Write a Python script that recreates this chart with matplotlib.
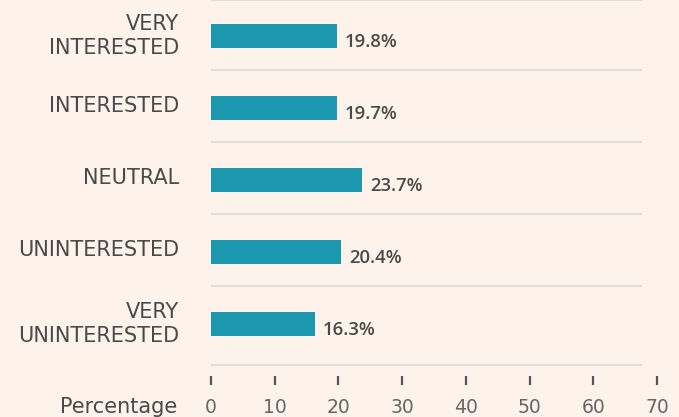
import matplotlib
matplotlib.use("Agg")
import matplotlib.pyplot as plt
from matplotlib.transforms import ScaledTranslation

categories = ["VERY\nINTERESTED", "INTERESTED", "NEUTRAL", "UNINTERESTED", "VERY\nUNINTERESTED"]
values = [19.8, 19.7, 23.7, 20.4, 16.3]
xticks = [0, 10, 20, 30, 40, 50, 60, 70]

BG = "#fdf3eb"
BAR = "#1c97b0"
GRID = "#e2e0de"
TXT = "#4a4a4a"

W, H = 679, 417
fig = plt.figure(figsize=(W / 100, H / 100), dpi=100, facecolor=BG)
# axes: x=0 at px 211, x=70 at px 657; top px 0, bottom px 376
ax = fig.add_axes([211 / W, 1 - 376 / H, (657 - 211) / W, 376 / H])
ax.set_facecolor(BG)

ypos = list(range(len(categories)))
ax.barh(ypos, values, height=0.335, color=BAR, zorder=3)
ax.set_xlim(0, 70)
ax.set_ylim(4.722, -0.5)

# separators
seps = [-0.5] + [i + 0.47 for i in range(len(categories) - 1)] + [4.57]
for s in seps:
    ax.plot([0, 67.7], [s, s], color=GRID, lw=1.5, zorder=1, clip_on=False,
            solid_capstyle="butt")

for y, v in zip(ypos, values):
    ax.annotate(f"{v}%", (v, y), xytext=(8, -6), textcoords="offset pixels",
                ha="left", va="center", fontsize=13.3, color=TXT,
                family="Open Sans", fontweight="semibold")

ax.set_yticks(ypos)
ax.set_yticklabels(categories, fontsize=15, color=TXT, family="DejaVu Sans",
                   linespacing=1.22, ha="right")
ax.tick_params(axis="y", length=0, pad=23)
up = ScaledTranslation(0, 4 / 100, fig.dpi_scale_trans)
for lbl in ax.get_yticklabels():
    lbl.set_transform(lbl.get_transform() + up)

ax.set_xticks(xticks)
ax.set_xticklabels([str(t) for t in xticks], fontsize=13.5, color="#666666",
                   family="DejaVu Sans")
ax.tick_params(axis="x", direction="out", length=6.5, width=1.6, color="#555555", pad=9)

for sp in ax.spines.values():
    sp.set_visible(False)

fig.text(177 / W, 1 - 407 / H, "Percentage", ha="right", va="center",
         fontsize=15, color=TXT, family="DejaVu Sans")

fig.savefig("out.png", dpi=100, facecolor=BG)
